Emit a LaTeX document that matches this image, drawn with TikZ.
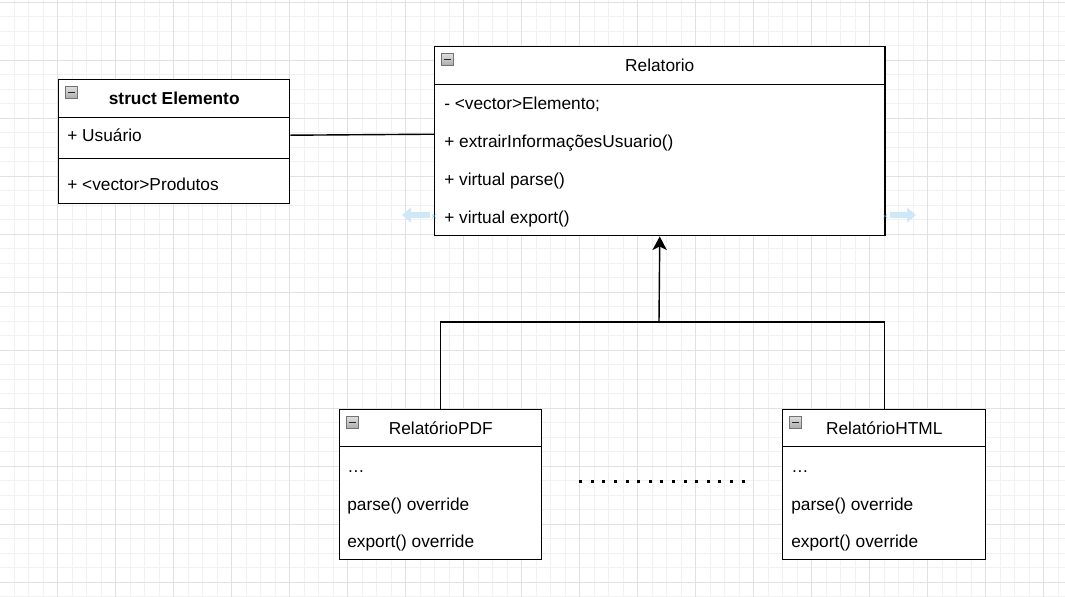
\documentclass[tikz,border=0pt]{standalone}
\usepackage{fontspec}
\setmainfont{Liberation Sans}
\usetikzlibrary{arrows.meta}

\definecolor{gridmajor}{HTML}{E1E1E1}
\definecolor{gridminor}{HTML}{F1F1F1}
\definecolor{hoverblue}{HTML}{CFE8F8}
\definecolor{markblue}{HTML}{29B6F2}

\tikzset{
  umlfont/.style={font=\fontsize{12.3pt}{14pt}\selectfont},
  classhead/.style={draw, line width=1pt, fill=white, anchor=north west, inner sep=0pt, umlfont},
  classpart/.style={draw, line width=1pt, fill=white, anchor=north west, inner sep=0pt},
  member/.style={anchor=base west, inner sep=0pt, umlfont},
  collapse/.style={draw=gray!90!black, line width=0.5pt, top color=gray!25, bottom color=gray!65,
    anchor=north west, minimum size=0.3cm, inner sep=0pt,
    path picture={\draw[line width=1.2pt, black!85]
      ([xshift=1.6pt]path picture bounding box.west) -- ([xshift=-1.6pt]path picture bounding box.east);}},
  link/.style={line width=1pt},
}

\begin{document}
\begin{tikzpicture}[x=0.025cm, y=-0.025cm]
\clip (0,0) rectangle (1065,597);
\fill[white] (0,0) rectangle (1065,597);

% background grid
\foreach \i in {0,...,73} \draw[gridminor, line width=0.7pt] ({\i*14.5-0.5},0) -- ({\i*14.5-0.5},597);
\foreach \j in {0,...,41} \draw[gridminor, line width=0.7pt] (0,{\j*14.5+2.3}) -- (1065,{\j*14.5+2.3});
\foreach \i in {0,...,19} \draw[gridmajor, line width=0.7pt] ({\i*58-0.5},0) -- ({\i*58-0.5},597);
\foreach \j in {0,...,10} \draw[gridmajor, line width=0.7pt] (0,{\j*58+2.3}) -- (1065,{\j*58+2.3});

% struct Elemento
\node[classhead, minimum width=5.775cm, minimum height=0.95cm] (elemHead) at (58,79) {\bfseries struct Elemento};
\node[classpart, minimum width=5.775cm, minimum height=1.025cm] (elemAttr) at (58,117) {};
\node[classpart, minimum width=5.775cm, minimum height=1.125cm] (elemMeth) at (58,158) {};
\node[collapse] (elemIcon) at (65,86) {};
\node[member] (elemUser) at (67,142) {+ Usuário};
\node[member] (elemProd) at (67,191) {+ <vector>Produtos};

% Relatorio
\node[classhead, minimum width=11.25cm, minimum height=0.95cm] (relHead) at (434,46) {Relatorio};
\node[classpart, minimum width=11.25cm, minimum height=3.775cm] (relBody) at (434,84) {};
\node[collapse] (relIcon) at (441,53) {};
\node[member] (relVec) at (444,110) {- <vector>Elemento;};
\node[member] (relInfo) at (444,148) {+ extrairInformaçõesUsuario()};
\node[member] (relParse) at (444,185.5) {+ virtual parse()};
\node[member] (relExport) at (444,223) {+ virtual export()};

% RelatórioPDF
\node[classhead, minimum width=5.05cm, minimum height=0.925cm] (pdfHead) at (339,409) {RelatórioPDF};
\node[classpart, minimum width=5.05cm, minimum height=2.825cm] (pdfBody) at (339,446) {};
\node[collapse] (pdfIcon) at (346,416) {};
\node[member] (pdfMore) at (347,472) {…};
\node[member] (pdfParse) at (347,510) {parse() override};
\node[member] (pdfExport) at (347,547.5) {export() override};

% RelatórioHTML
\node[classhead, minimum width=5.075cm, minimum height=0.925cm] (htmlHead) at (782,409) {RelatórioHTML};
\node[classpart, minimum width=5.075cm, minimum height=2.825cm] (htmlBody) at (782,446) {};
\node[collapse] (htmlIcon) at (789,416) {};
\node[member] (htmlMore) at (791,472) {…};
\node[member] (htmlParse) at (791,510) {parse() override};
\node[member] (htmlExport) at (791,547.5) {export() override};

% association
\draw[link] ([yshift=0.075cm]elemAttr.east) -- ([yshift=0.1cm]elemAttr.east -| relBody.west);

% inheritance
\coordinate (bar) at (659,322);
\draw[link] (pdfHead.north) |- (bar) -| (htmlHead.north);
\draw[link, -{Stealth[length=0.34cm, width=0.36cm, inset=0.09cm]}] (bar) -- (relBody.south);

% more subclasses
\foreach \k in {0,...,14} \fill ({579.2+\k*11.6},479.5) rectangle ++(3,3);

% hover handles
\coordinate (hoverL) at (402,215);
\coordinate (hoverR) at (916,215);
\draw[hoverblue, line width=3.8pt, -{Triangle[length=0.22cm, width=0.36cm]}] ([xshift=-0.1cm]relBody.west |- hoverL) -- (hoverL);
\draw[hoverblue, line width=3.8pt, -{Triangle[length=0.22cm, width=0.36cm]}] ([xshift=0.1cm]relBody.east |- hoverR) -- (hoverR);
\node[markblue, inner sep=0pt, font=\tiny] (markL) at (relBody.west |- 0,217) {$\times$};
\node[markblue, inner sep=0pt, font=\tiny] (markR) at (relBody.east |- 0,217) {$\times$};
\end{tikzpicture}
\end{document}
